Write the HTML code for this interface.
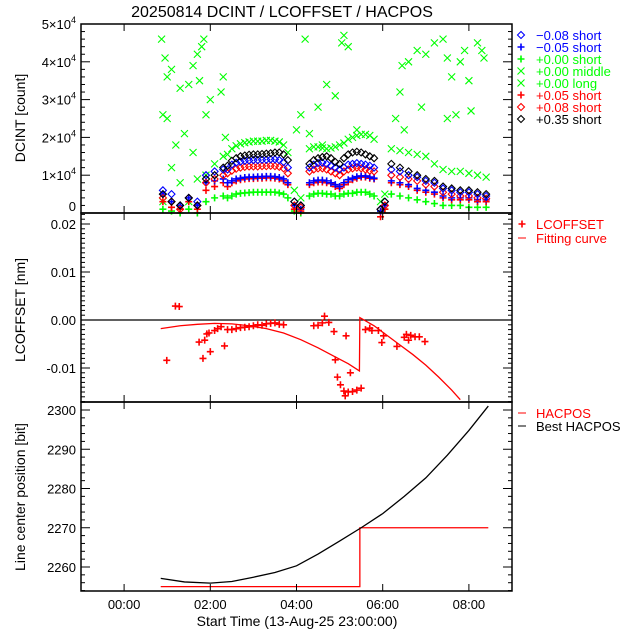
<!DOCTYPE html>
<html><head><meta charset="utf-8"><style>
body{margin:0;background:#fff;}
svg{display:block;font-family:"Liberation Sans",sans-serif;}
</style></head><body>
<svg id="c" width="640" height="640" viewBox="0 0 640 640">
<text x="282" y="17" font-size="16" text-anchor="middle">20250814 DCINT / LCOFFSET / HACPOS</text>
</svg>
<script>
// ---- data ----
const times = [0.9,1.1,1.3,1.5,1.7,1.9,2.1,2.3,
 2.4,2.5,2.6,2.7,2.8,2.9,3.0,3.1,3.2,3.3,3.4,3.5,3.6,3.7,3.8,
 3.95,4.1,
 4.3,4.4,4.5,4.6,4.7,4.8,4.9,5.0,5.1,5.2,5.3,5.4,5.5,5.6,5.7,5.8,
 5.95,6.05,
 6.2,6.4,6.6,6.8,7.0,7.2,7.4,7.6,7.8,8.0,8.2,8.4];
const longV = [0.3,1.2,0.8,0.3,0.9,1.0,1.3,1.5,
 1.55,1.7,1.78,1.83,1.86,1.88,1.9,1.9,1.9,1.92,1.92,1.9,1.88,1.8,1.6,
 0.6,0.4,
 1.7,1.75,1.75,1.72,1.7,1.72,1.75,1.8,1.85,1.95,2.0,2.05,2.08,2.08,2.05,1.95,
 0.3,0.5,
 1.7,1.65,1.6,1.55,1.5,1.3,1.15,1.1,1.1,1.05,1.0,0.95];
const blackDV = [0.5,0.3,0.2,0.4,0.2,0.9,1.0,1.2,
 1.25,1.38,1.45,1.5,1.52,1.54,1.55,1.55,1.56,1.57,1.58,1.6,1.6,1.55,1.4,
 0.3,0.2,
 1.3,1.4,1.45,1.48,1.5,1.45,1.35,1.3,1.45,1.55,1.6,1.62,1.6,1.55,1.5,1.45,
 0.1,0.3,
 1.3,1.2,1.1,1.0,0.9,0.85,0.7,0.65,0.6,0.6,0.55,0.5];
const blueDV = [0.6,0.5,0.2,0.4,0.3,1.0,1.1,1.15,
 1.15,1.28,1.33,1.36,1.38,1.39,1.4,1.4,1.41,1.41,1.42,1.42,1.4,1.35,1.2,
 0.3,0.2,
 1.2,1.28,1.32,1.33,1.3,1.25,1.2,1.15,1.2,1.28,1.3,1.32,1.3,1.28,1.25,1.2,
 0.1,0.3,
 1.15,1.1,1.0,0.95,0.85,0.8,0.65,0.6,0.55,0.55,0.5,0.45];
const bluePV = [0.5,0.3,0.2,0.4,0.2,0.8,0.85,0.9,
 0.8,0.85,0.9,0.92,0.94,0.95,0.95,0.96,0.96,0.97,0.97,0.96,0.94,0.9,0.8,
 0.2,0.1,
 0.8,0.85,0.87,0.87,0.85,0.8,0.75,0.7,0.8,0.88,0.92,0.96,0.98,0.98,0.95,0.92,
 0.05,0.2,
 0.85,0.8,0.75,0.65,0.6,0.55,0.45,0.4,0.4,0.4,0.35,0.35];
const redDV = [0.4,0.3,0.1,0.4,0.2,0.8,0.9,1.0,
 1.05,1.12,1.17,1.2,1.22,1.23,1.23,1.23,1.24,1.24,1.25,1.24,1.22,1.18,1.05,
 0.2,0.15,
 1.1,1.15,1.18,1.18,1.15,1.1,1.05,1.0,1.1,1.15,1.18,1.2,1.18,1.15,1.12,1.1,
 0.1,0.2,
 1.0,0.95,0.9,0.85,0.75,0.7,0.55,0.5,0.45,0.45,0.4,0.38];
const redPV = [0.3,0.15,0.1,0.3,0.1,0.6,0.7,0.8,
 0.7,0.8,0.85,0.88,0.9,0.91,0.91,0.92,0.92,0.93,0.93,0.92,0.9,0.85,0.75,
 0.1,0.05,
 0.75,0.8,0.82,0.82,0.8,0.78,0.7,0.65,0.75,0.82,0.88,0.92,0.95,0.95,0.92,0.9,
 -0.1,0.1,
 0.8,0.75,0.7,0.6,0.55,0.5,0.4,0.35,0.35,0.35,0.3,0.3];
const greenPV = [0.1,0.05,0.0,0.1,0.0,0.3,0.4,0.45,
 0.4,0.45,0.5,0.52,0.53,0.54,0.55,0.55,0.55,0.55,0.55,0.55,0.53,0.5,0.4,
 0.05,0.0,
 0.45,0.5,0.52,0.52,0.5,0.5,0.45,0.45,0.5,0.52,0.52,0.55,0.55,0.55,0.5,0.45,
 0.05,0.1,
 0.5,0.45,0.4,0.35,0.3,0.25,0.2,0.2,0.2,0.15,0.15,0.15];
const midT = [0.87,0.95,1.0,1.1,0.9,1.0,1.3,1.5,1.6,1.7,1.8,1.85,1.75,1.9,2.0,1.2,1.4,2.25,2.3,2.35,1.6,
 4.0,4.1,4.2,4.3,4.5,4.7,4.9,5.05,5.1,5.2,5.4,4.6,
 6.3,6.4,6.45,6.6,6.8,7.0,7.2,7.4,7.5,7.6,7.8,7.9,8.2,8.3,8.35,8.0,7.5,6.9,6.5,7.7,8.05];
const midV = [4.6,4.1,3.6,3.8,2.6,2.5,3.3,3.4,3.9,4.2,4.4,4.6,3.5,2.6,3.0,1.8,2.1,3.2,3.6,2.0,1.6,
 2.2,2.6,4.6,2.1,2.8,3.4,3.1,4.5,4.7,4.4,2.2,1.8,
 2.5,3.2,3.9,4.0,4.3,4.2,4.5,4.6,4.1,3.6,4.0,4.3,4.5,4.3,4.1,3.5,2.5,2.8,2.2,2.6,2.7];
// LCOFFSET (x1e-3 nm)
const lcT = [0.99,1.19,1.28,1.74,1.83,1.87,1.92,1.97,2.0,2.1,2.17,2.25,2.33,
 2.4,2.5,2.6,2.7,2.8,2.9,3.0,3.1,3.2,3.3,3.4,3.5,3.6,3.7,
 4.4,4.5,4.6,4.65,4.75,4.87,4.9,4.95,5.02,5.1,5.13,5.15,5.2,5.25,5.3,5.4,5.5,
 5.6,5.7,5.75,5.9,5.98,6.02,6.33,6.5,6.55,6.6,6.65,6.75,6.85,6.98];
const lcV = [-8.4,2.9,2.8,-4.6,-8.0,-4.2,-2.9,-2.7,-6.6,-2.2,-1.8,-1.4,-5.4,
 -2.0,-2.0,-1.8,-1.6,-1.5,-1.4,-1.2,-1.0,-1.1,-0.8,-0.7,-0.6,-0.9,-1.0,
 -1.2,-1.1,-0.6,0.8,-0.5,-2.4,-8.3,-11.9,-13.5,-14.8,-15.8,-3.3,-15.0,-11.0,-14.9,-14.6,-14.2,
 -2.0,-1.7,-2.2,-2.2,-4.7,-3.3,-5.5,-3.6,-3.0,-4.2,-3.2,-3.5,-3.5,-4.5];
const fitT1 = [0.85,1.3,1.7,2.1,2.5,2.9,3.3,3.7,4.1,4.5,4.9,5.2,5.46];
const fitV1 = [-1.8,-1.2,-0.9,-0.7,-0.8,-1.2,-1.8,-2.7,-4.1,-5.8,-7.7,-9.1,-10.6];
const fitT2 = [5.47,5.8,6.1,6.4,6.7,7.0,7.3,7.6,7.8];
const fitV2 = [0.5,-1.2,-3.2,-5.2,-7.2,-9.4,-11.9,-14.6,-16.6];
// HACPOS
const hacT = [0.85,5.47,5.47,8.45];
const hacV = [2255,2255,2270,2270];
const bestT = [0.85,1.4,2.0,2.5,3.0,3.5,4.0,4.5,5.0,5.5,6.0,6.5,7.0,7.5,8.0,8.45];
const bestV = [2257.1,2256.2,2255.9,2256.3,2257.4,2258.6,2260.3,2263.3,2266.6,2270.0,2273.6,2278.0,2282.7,2288.5,2294.8,2301.0];
const xTickLabels = ["00:00","02:00","04:00","06:00","08:00"];
const xTickVals = [0,2,4,6,8];

// ---- scales ----
const svg = document.getElementById('c');
const NS = 'http://www.w3.org/2000/svg';
const L = 81, R = 512;
const X = h => L + (h + 1) / 10 * (R - L);
const Y1 = v => 213 - v / 5 * 189;              // v in 1e4
const Y2 = v => 224 + (20 - v) * 4.8;            // v in 1e-3
const Y3 = v => 567 - (v - 2260) * 3.925;
function el(tag, attrs, parent) {
  const e = document.createElementNS(NS, tag);
  for (const k in attrs) e.setAttribute(k, attrs[k]);
  (parent || svg).appendChild(e);
  return e;
}
function txt(x, y, s, attrs, parent) {
  const t = el('text', Object.assign({x: x, y: y}, attrs || {}), parent);
  t.textContent = s;
  return t;
}
function marker(g, kind, x, y, col) {
  const s = 3.5;
  let d;
  if (kind === '+') d = `M${x-s},${y}H${x+s}M${x},${y-s}V${y+s}`;
  else if (kind === 'x') d = `M${x-s},${y-s}L${x+s},${y+s}M${x-s},${y+s}L${x+s},${y-s}`;
  else d = `M${x},${y-s}L${x+s},${y}L${x},${y+s}L${x-s},${y}Z`;
  const p = el('path', {d: d, stroke: col, 'stroke-width': kind === '+' ? 1.6 : 1.1, fill: 'none'}, g);
  
  
}
function axes(top, bot, name) {
  const r = el('rect', {x: L, y: top, width: R - L, height: bot - top, fill: 'none', stroke: '#000', 'stroke-width': 1.5});
  
  
  xTickVals.forEach(v => {
    el('line', {x1: X(v), x2: X(v), y1: bot, y2: bot - 7, stroke: '#000'});
    el('line', {x1: X(v), x2: X(v), y1: top, y2: top + 7, stroke: '#000'});
  });
}
function yTicks(Y, lo, hi, minor, major, labelFn) {
  const n = Math.round((hi - lo) / minor);
  for (let i = 0; i <= n; i++) {
    const v = lo + i * minor;
    const isMaj = Math.abs(v / major - Math.round(v / major)) < 1e-6;
    const y = Y(v);
    const len = isMaj ? 9 : 4;
    el('line', {x1: L, x2: L + len, y1: y, y2: y, stroke: '#000'});
    el('line', {x1: R, x2: R - len, y1: y, y2: y, stroke: '#000'});
    if (isMaj && labelFn) labelFn(v, y);
  }
}
function polyline(T, V, Y, col, name) {
  const p = el('polyline', {points: T.map((t, i) => X(t) + ',' + Y(V[i])).join(' '), fill: 'none', stroke: col, 'stroke-width': 1.3});
  
  
}

// ---- panel 1 ----
const g1 = el('g', {});


const series1 = [
  ['x', '#00ff00', longV, '+0.00 long'],
  ['+', '#00ff00', greenPV, '+0.00 short'],
  ['+', '#ff0000', redPV, '+0.05 short'],
  ['+', '#0000ff', bluePV, '-0.05 short'],
  ['d', '#ff0000', redDV, '+0.08 short'],
  ['d', '#0000ff', blueDV, '-0.08 short'],
  ['d', '#000000', blackDV, '+0.35 short']
];
midT.forEach((t, i) => marker(g1, 'x', X(t), Y1(midV[i]), '#00ff00'));
series1.forEach(s => times.forEach((t, i) => marker(g1, s[0], X(t), Y1(s[2][i]), s[1])));
axes(24, 213, 'dcint');
yTicks(Y1, 0, 5, 0.2, 1, (v, y) => {
  if (v === 0) { txt(76, y - 2, '0', {'font-size': 13, 'text-anchor': 'end'}); return; }
  const t = txt(76, y + 5, v + '×10', {'font-size': 13, 'text-anchor': 'end'});
  
  
  const e = document.createElementNS(NS, 'tspan');
  e.setAttribute('dy', '-6'); e.setAttribute('font-size', '9'); e.textContent = '4';
  t.appendChild(e);
});
const t1 = txt(0, 0, 'DCINT [count]', {'font-size': 14, 'text-anchor': 'middle', transform: 'translate(25,118) rotate(-90)'});


const leg1 = [['d','#0000ff','−0.08 short'],['+','#0000ff','−0.05 short'],['+','#00ff00','+0.00 short'],['x','#00ff00','+0.00 middle'],['x','#00ff00','+0.00 long'],['+','#ff0000','+0.05 short'],['d','#ff0000','+0.08 short'],['d','#000000','+0.35 short']];
leg1.forEach((l, i) => {
  const y = 35 + i * 12;
  const g = el('g', {});
  
  
  marker(g, l[0], 521, y, l[1]);
  txt(536, y + 5, l[2], {'font-size': 13, fill: l[1]}, g);
});

// ---- panel 2 ----
const g2 = el('g', {});


el('line', {x1: L, x2: R, y1: Y2(0), y2: Y2(0), stroke: '#000', 'stroke-width': 1.3}, g2);
lcT.forEach((t, i) => marker(g2, '+', X(t), Y2(lcV[i]), '#ff0000'));
const clip = el('clipPath', {id: 'cp2'});
el('rect', {x: L, y: 213, width: R - L, height: 189}, clip);
const gc = el('g', {'clip-path': 'url(#cp2)'});


const fitPts = fitT1.map((t, i) => X(t) + ',' + Y2(fitV1[i])).concat(fitT2.map((t, i) => X(t) + ',' + Y2(fitV2[i])));
el('polyline', {points: fitPts.join(' '), fill: 'none', stroke: '#ff0000', 'stroke-width': 1.3}, gc);
axes(213, 402, 'lcoffset');
yTicks(Y2, -17, 22, 1, 10, (v, y) => {
  const t = txt(76, y + 5, (v / 1000).toFixed(2), {'font-size': 13, 'text-anchor': 'end'});
  
  
});
const t2 = txt(0, 0, 'LCOFFSET [nm]', {'font-size': 14, 'text-anchor': 'middle', transform: 'translate(25,310) rotate(-90)'});


const lg2 = el('g', {});


marker(lg2, '+', 522, 224, '#ff0000');
txt(536, 229, 'LCOFFSET', {'font-size': 13, fill: '#ff0000'}, lg2);
el('line', {x1: 518, x2: 526, y1: 238, y2: 238, stroke: '#ff0000'}, lg2);
txt(536, 243, 'Fitting curve', {'font-size': 13, fill: '#ff0000'}, lg2);

// ---- panel 3 ----
polyline(hacT, hacV, Y3, '#ff0000', 'hacpos-line');
polyline(bestT, bestV, Y3, '#000000', 'best-hacpos-line');
axes(402, 591, 'hacpos');
yTicks(Y3, 2254, 2302, 2, 10, (v, y) => {
  const t = txt(76, y + 5, String(v), {'font-size': 13, 'text-anchor': 'end'});
  
  
});
const t3 = txt(0, 0, 'Line center position [bit]', {'font-size': 14, 'text-anchor': 'middle', transform: 'translate(25,497) rotate(-90)'});


const lg3 = el('g', {});


el('line', {x1: 518, x2: 526, y1: 413, y2: 413, stroke: '#ff0000'}, lg3);
txt(536, 418, 'HACPOS', {'font-size': 13, fill: '#ff0000'}, lg3);
el('line', {x1: 518, x2: 526, y1: 426, y2: 426, stroke: '#000'}, lg3);
txt(536, 431, 'Best HACPOS', {'font-size': 13, fill: '#000'}, lg3);

// x labels
xTickVals.forEach((v, i) => {
  const t = txt(X(v), 609, xTickLabels[i], {'font-size': 13, 'text-anchor': 'middle'});
  
  
});
const xt = txt(297, 626, 'Start Time (13-Aug-25 23:00:00)', {'font-size': 14, 'text-anchor': 'middle'});


</script>
</body></html>
